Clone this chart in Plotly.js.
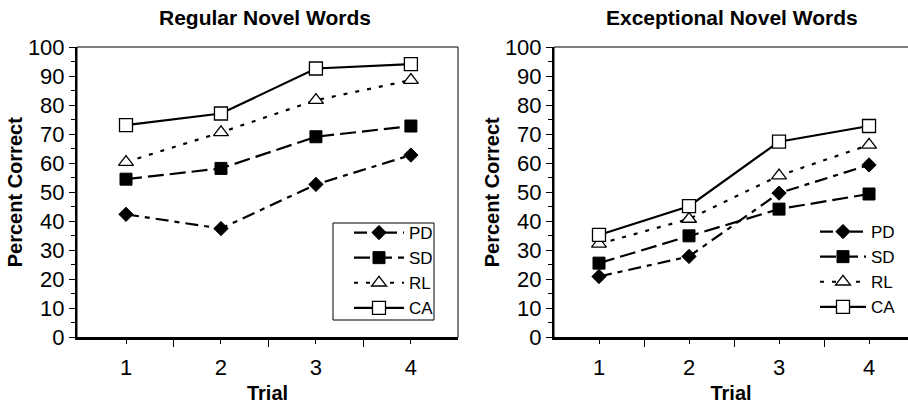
<!DOCTYPE html>
<html>
<head>
<meta charset="utf-8">
<script src="https://cdn.plot.ly/plotly-3.0.1.min.js"></script>
<style>html,body{margin:0;padding:0;background:#fff;}#chart{width:908px;height:404px;}</style>
</head>
<body>
<div id="chart"></div>
<script>
const trials = [1, 2, 3, 4];
const trialLabels = ['1', '2', '3', '4'];
const groups = ['PD', 'SD', 'RL', 'CA'];

// Regular Novel Words
const regPD = [42.4, 37.5, 52.7, 62.8];
const regSD = [54.5, 58.2, 69.1, 72.8];
const regRL = [60.4, 70.6, 81.7, 88.6];
const regCA = [73.1, 77.1, 92.6, 94.1];

// Exceptional Novel Words
const excPD = [21.0, 27.9, 49.7, 59.4];
const excSD = [25.6, 35.0, 44.2, 49.4];
const excRL = [32.2, 40.8, 55.7, 66.3];
const excCA = [35.3, 45.2, 67.4, 72.8];

const styles = {
  PD: {dash: '13px,6px,5px,6px', marker: {symbol: 'diamond', size: 11, color: '#000', line: {color: '#000', width: 1}}},
  SD: {dash: '16px,6px', marker: {symbol: 'square', size: 12, color: '#000', line: {color: '#000', width: 1}}},
  RL: {dash: '4px,8px', marker: {symbol: 'triangle-up', size: 13, color: '#fff', line: {color: '#000', width: 1.3}}},
  CA: {dash: 'solid', marker: {symbol: 'square', size: 13, color: '#fff', line: {color: '#000', width: 1.3}}}
};

function mk(name, y, xa, ya, legend) {
  return {
    x: trials, y: y, xaxis: xa, yaxis: ya, name: name, legend: legend,
    type: 'scatter', mode: 'lines+markers',
    line: {color: '#000', width: 2.2, dash: styles[name].dash},
    marker: styles[name].marker,
    cliponaxis: false
  };
}

const regData = {PD: regPD, SD: regSD, RL: regRL, CA: regCA};
const excData = {PD: excPD, SD: excSD, RL: excRL, CA: excCA};
const traces = [];
groups.forEach(g => traces.push(mk(g, regData[g], 'x', 'y', 'legend')));
groups.forEach(g => traces.push(mk(g, excData[g], 'x2', 'y2', 'legend2')));

const W = 908, H = 404;
const fontFam = 'Liberation Sans, Arial, sans-serif';
const tickFont = {family: fontFam, size: 22, color: '#000'};
const titleFont = {family: fontFam, size: 20, color: '#000', weight: 'bold'};

function xax(domain, range) {
  return {
    domain: domain, range: range, showgrid: false, zeroline: false,
    showline: true, linecolor: '#000', linewidth: 2,
    tickmode: 'array', tickvals: trials, ticktext: trialLabels,
    ticks: 'outside', ticklen: 4, tickwidth: 1, tickcolor: '#000',
    minor: {tickvals: [1.5, 2.5, 3.5], ticks: 'outside', ticklen: 7, tickwidth: 1, tickcolor: '#000', showgrid: false},
    tickfont: tickFont, ticklabelstandoff: 5,
    title: {text: 'Trial', font: titleFont, standoff: 18}
  };
}
function yax(domain, anchor) {
  return {
    domain: domain, range: [0, 100], anchor: anchor, showgrid: false, zeroline: false,
    showline: true, linecolor: '#000', linewidth: 2,
    tickmode: 'linear', tick0: 0, dtick: 10,
    ticks: 'outside', ticklen: 6, tickwidth: 1, tickcolor: '#000',
    minor: {dtick: 5, ticks: 'outside', ticklen: 4, tickwidth: 1, tickcolor: '#000', showgrid: false},
    tickfont: tickFont,
    title: {text: 'Percent Correct', font: titleFont, standoff: 0}
  };
}

const yDom = [66.5 / H, 1 - 47 / H];
const layout = {
  width: W, height: H,
  margin: {l: 0, r: 0, t: 0, b: 0},
  paper_bgcolor: '#fff', plot_bgcolor: '#fff',
  font: {family: fontFam, color: '#000'},
  xaxis: xax([77 / W, 458 / W], [0.484, 4.496]),
  yaxis: yax(yDom, 'x'),
  xaxis2: Object.assign(xax([554 / W, 1], [0.5, 4.433]), {anchor: 'y2'}),
  yaxis2: yax(yDom, 'x2'),
  shapes: [
    {type: 'rect', xref: 'x domain', yref: 'y domain', x0: 0, x1: 1, y0: 0, y1: 1, line: {color: '#000', width: 1}, layer: 'below'},
    {type: 'rect', xref: 'x2 domain', yref: 'y2 domain', x0: 0, x1: 1.1, y0: 0, y1: 1, line: {color: '#000', width: 1}, layer: 'below'},
    {type: 'rect', xref: 'paper', yref: 'paper', x0: 333 / W, x1: 434 / W, y0: 1 - 320 / H, y1: 1 - 223 / H, line: {color: '#000', width: 1}, fillcolor: '#fff', layer: 'above'}
  ],
  annotations: [
    {text: '<b>Regular Novel Words</b>', xref: 'paper', yref: 'paper', x: 265 / W, y: 1 - 17 / H, xanchor: 'center', yanchor: 'middle', showarrow: false, font: {family: fontFam, size: 21, color: '#000'}},
    {text: '<b>Exceptional Novel Words</b>', xref: 'paper', yref: 'paper', x: 732 / W, y: 1 - 17 / H, xanchor: 'center', yanchor: 'middle', showarrow: false, font: {family: fontFam, size: 21, color: '#000'}}
  ],
  legend: {
    x: 349 / W, y: 1 - 215 / H, xanchor: 'left', yanchor: 'top',
    bgcolor: 'rgba(0,0,0,0)', borderwidth: 0,
    font: {family: fontFam, size: 17, color: '#000'}, tracegroupgap: 0, itemwidth: 50
  },
  legend2: {
    x: 815 / W, y: 1 - 214 / H, xanchor: 'left', yanchor: 'top',
    bgcolor: 'rgba(0,0,0,0)', borderwidth: 0,
    font: {family: fontFam, size: 17, color: '#000'}, tracegroupgap: 0, itemwidth: 46
  },
  showlegend: true
};

Plotly.newPlot('chart', traces, layout, {displayModeBar: false, staticPlot: true});
</script>
</body>
</html>
